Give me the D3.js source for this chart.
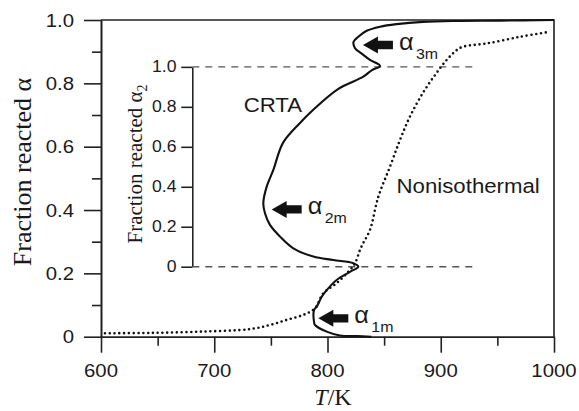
<!DOCTYPE html>
<html><head><meta charset="utf-8">
<script src="https://cdn.jsdelivr.net/npm/d3@7"></script>
<style>body{margin:0;background:#fff}</style></head>
<body><svg id="c" width="579" height="411"></svg>
<script>
// ---------- data ----------
const tempTicks = [600, 700, 800, 900, 1000];
const tempMinor = [650, 750, 850, 950];
const alphaTicks = [0, 0.2, 0.4, 0.6, 0.8, 1.0];
const alphaTickLabels = ["0", "0.2", "0.4", "0.6", "0.8", "1.0"];
const alphaMinor = [0.1, 0.3, 0.5, 0.7, 0.9];
const insetTicks = [0, 0.2, 0.4, 0.6, 0.8, 1.0];
const insetTickLabels = ["0", "0.2", "0.4", "0.6", "0.8", "1.0"];
const insetMainAlpha = [0.221, 0.852];   // main α where inset α2 = 0 and 1
const insetTemp = [680.6, 931];          // inset axis and dashed-line end

const crtaT = [838.8, 825.8, 811.0, 799.3, 789.0, 788.1, 788.1, 790.5, 794.9, 799.3, 808.1, 819.9, 827.2,
  822.8, 805.1, 787.5, 769.8, 758.1, 749.2, 744.8, 743.3, 746.3, 752.1, 760.7, 775.7, 787.2, 809.3, 831.6, 839.3, 846.4,
  837.5, 830.5, 824.3, 823.0, 827.2, 834.6, 846.4, 861.1, 884.3, 914.1, 952.3, 1000];
const crtaA = [0.000, 0.002, 0.004, 0.016, 0.037, 0.047, 0.084, 0.095, 0.126, 0.147, 0.179, 0.205, 0.221,
  0.232, 0.242, 0.253, 0.279, 0.316, 0.353, 0.390, 0.421, 0.474, 0.526, 0.612, 0.675, 0.716, 0.782, 0.821, 0.842, 0.855,
  0.874, 0.893, 0.911, 0.931, 0.947, 0.966, 0.979, 0.987, 0.994, 0.997, 0.998, 1.000];

const nonisoT = [603.5, 643.3, 687.4, 731.6, 749.2, 764.0, 778.7, 789.0, 796.3, 808.1, 818.4, 824.3, 828.7, 831.6,
  837.5, 844.9, 855.2, 864.0, 872.8, 884.3, 894.9, 905.3, 914.1, 920.0, 940.6, 970.0, 996.5];
const nonisoA = [0.011, 0.012, 0.016, 0.024, 0.037, 0.053, 0.069, 0.090, 0.137, 0.169, 0.205, 0.232, 0.274, 0.296,
  0.337, 0.442, 0.537, 0.621, 0.695, 0.770, 0.826, 0.874, 0.905, 0.916, 0.926, 0.947, 0.963];

const arrowSub = ["3m", "2m", "1m"];
const arrowT = [831.3, 750.7, 791.9];
const arrowA = [0.921, 0.402, 0.058];

const curveLabels = ["CRTA", "Nonisothermal"];
const curveLabelT = [726, 861];
const curveLabelA = [0.71, 0.455];

// ---------- drawing ----------
const svg = d3.select("#c");
const x = d3.scaleLinear().domain([600, 1000]).range([101, 554]);
const y = d3.scaleLinear().domain([0, 1]).range([336.7, 20]);
const yIn = d3.scaleLinear().domain([0, 1]).range([y(insetMainAlpha[0]), y(insetMainAlpha[1])]);
const SX = 1.1;
const sans = "Liberation Sans, Arial, sans-serif";
const serif = "Liberation Serif, Times New Roman, serif";

function stext(g, tx, ty, str, size, anchor, family, sx) {
  return g.append("text")
    .attr("transform", `translate(${tx},${ty}) scale(${sx || SX},1)`)
    .attr("text-anchor", anchor || "start")
    .attr("font-family", family || sans)
    .attr("font-size", size)
    .attr("fill", "#1a1a1a")
    .text(str);
}

// frame top/right
svg.append("path")
  .attr("d", `M${x(600)},${y(1)}H${x(1000)}V${y(0)}`)
  .attr("fill", "none").attr("stroke", "#222").attr("stroke-width", 1.6);

// bottom axis
svg.append("g").attr("transform", `translate(0,${y(0)})`)
  .call(d3.axisBottom(x).tickValues(tempTicks).tickSize(16).tickSizeOuter(0).tickFormat(""));
svg.append("g").attr("transform", `translate(0,${y(0)})`)
  .call(d3.axisBottom(x).tickValues(tempMinor).tickSize(9).tickSizeOuter(0).tickFormat(""));
tempTicks.forEach(t => stext(svg, x(t), 377, String(t), 18.5, "middle"));

// left axis
svg.append("g").attr("transform", `translate(${x(600)},0)`)
  .call(d3.axisLeft(y).tickValues(alphaTicks).tickSize(17).tickSizeOuter(0).tickFormat(""));
svg.append("g").attr("transform", `translate(${x(600)},0)`)
  .call(d3.axisLeft(y).tickValues(alphaMinor).tickSize(9).tickSizeOuter(0).tickFormat(""));
alphaTicks.forEach((a, i) => stext(svg, 74, y(a) + 6.5, alphaTickLabels[i], 18.5, "end"));

svg.selectAll(".domain").attr("stroke", "#222").attr("stroke-width", 1.6);
svg.selectAll(".tick line").attr("stroke", "#222").attr("stroke-width", 1.6);

// inset axis
const ix = x(insetTemp[0]);
svg.append("g").attr("transform", `translate(${ix},0)`)
  .call(d3.axisLeft(yIn).tickValues(insetTicks).tickSize(11).tickSizeOuter(0).tickFormat(""))
  .call(g => g.selectAll(".domain,.tick line").attr("stroke", "#222").attr("stroke-width", 1.6));
insetTicks.forEach((a, i) => stext(svg, 176.5, yIn(a) + 5.5, insetTickLabels[i], 16, "end"));

// dashed lines
[0, 1].forEach(v => {
  svg.append("line")
    .attr("x1", ix).attr("x2", x(insetTemp[1]))
    .attr("y1", yIn(v)).attr("y2", yIn(v))
    .attr("stroke", "#555").attr("stroke-width", 1.4)
    .attr("stroke-dasharray", "7,6");
});

// curves
const line = d3.line().x(d => x(d[0])).y(d => y(d[1])).curve(d3.curveCatmullRom.alpha(0.5));
svg.append("path")
  .attr("d", line(nonisoT.map((t, i) => [t, nonisoA[i]])))
  .attr("fill", "none").attr("stroke", "#111").attr("stroke-width", 2.6)
  .attr("stroke-linecap", "round").attr("stroke-dasharray", "0,4.8");
svg.append("path")
  .attr("d", line(crtaT.map((t, i) => [t, crtaA[i]])))
  .attr("fill", "none").attr("stroke", "#111").attr("stroke-width", 2.1)
  .attr("stroke-linejoin", "round");

// arrows + labels
arrowT.forEach((t, i) => {
  const px = x(t), py = y(arrowA[i]);
  svg.append("path")
    .attr("d", `M${px},${py} l15,-8.5 v4.3 h15 v8.4 h-15 v4.3 z`)
    .attr("fill", "#111");
  stext(svg, px + 36, py + 5, "α", 23, "start");
  stext(svg, px + 53, py + 14, arrowSub[i], 14.5, "start");
});

// curve labels
curveLabels.forEach((s, i) => stext(svg, x(curveLabelT[i]), y(curveLabelA[i]), s, 19.5, "start", sans, 1.14));

// axis titles
const xt = svg.append("text").attr("x", 333).attr("y", 405)
  .attr("text-anchor", "middle").attr("font-family", serif).attr("font-size", 24).attr("fill", "#1a1a1a");
xt.append("tspan").attr("font-style", "italic").text("T");
xt.append("tspan").text("/K");

const yt = svg.append("text")
  .attr("transform", `translate(31,172) rotate(-90)`)
  .attr("text-anchor", "middle").attr("font-family", serif).attr("font-size", 26).attr("fill", "#1a1a1a");
yt.text("Fraction reacted α");

const yt2 = svg.append("text")
  .attr("transform", `translate(141.5,164) rotate(-90)`)
  .attr("text-anchor", "middle").attr("font-family", serif).attr("font-size", 21).attr("fill", "#1a1a1a");
yt2.append("tspan").text("Fraction reacted α");
yt2.append("tspan").attr("font-size", 14).attr("dy", 5).text("2");
</script>
</body></html>
